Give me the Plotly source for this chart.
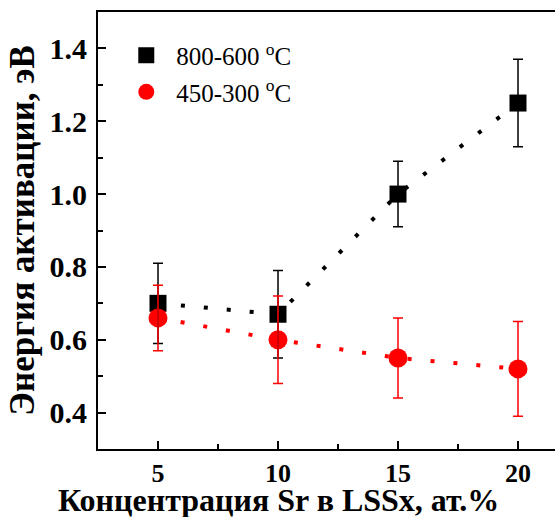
import plotly.graph_objects as go

x_conc = [5, 10, 15, 20]
ea_high = [0.70, 0.67, 1.00, 1.25]
err_high = [0.11, 0.12, 0.09, 0.12]
ea_low = [0.66, 0.60, 0.55, 0.52]
err_low = [0.09, 0.12, 0.11, 0.13]
name_high = "800-600 <sup>o</sup>C"
name_low = "450-300 <sup>o</sup>C"
x_ticks = [5, 10, 15, 20]
x_ticktext = ["5", "10", "15", "20"]
y_ticks = [0.4, 0.6, 0.8, 1.0, 1.2, 1.4]
y_ticktext = ["0.4", "0.6", "0.8", "1.0", "1.2", "1.4"]
x_title = "Концентрация Sr в LSSx, ат.%"
y_title = "Энергия активации, эВ"

FONT = "Liberation Serif"
fig = go.Figure()

# dotted guide lines
fig.add_trace(go.Scatter(x=x_conc, y=ea_high, mode="lines", showlegend=False,
                         line=dict(color="black", width=4, dash="4px,19px")))
fig.add_trace(go.Scatter(x=x_conc, y=ea_low, mode="lines", showlegend=False,
                         line=dict(color="red", width=4, dash="4px,19px")))
# markers
fig.add_trace(go.Scatter(x=x_conc, y=ea_high, mode="markers", name=name_high,
                         legendgroup="a",
                         marker=dict(symbol="square", size=17, color="black")))
fig.add_trace(go.Scatter(x=x_conc, y=ea_low, mode="markers", name=name_low,
                         legendgroup="b",
                         marker=dict(symbol="circle", size=19, color="red")))
# error bars on top
fig.add_trace(go.Scatter(x=x_conc, y=ea_high, mode="markers", showlegend=False,
                         marker=dict(size=1, opacity=0),
                         error_y=dict(type="data", array=err_high, color="black",
                                      thickness=1.5, width=5)))
fig.add_trace(go.Scatter(x=x_conc, y=ea_low, mode="markers", showlegend=False,
                         marker=dict(size=1, opacity=0),
                         error_y=dict(type="data", array=err_low, color="red",
                                      thickness=1.5, width=5)))

fig.add_annotation(text=x_title, xref="paper", yref="paper",
                   x=0.396, y=-0.117, xanchor="center", yanchor="middle",
                   showarrow=False,
                   font=dict(family=FONT, size=32, color="black", weight=700))

fig.update_layout(
    width=555, height=517,
    margin=dict(l=98, r=0, t=12, b=68),
    paper_bgcolor="white", plot_bgcolor="white",
    font=dict(family=FONT, color="black", size=20),
    legend=dict(x=0.04, y=0.953, xanchor="left", yanchor="top",
                font=dict(family=FONT, size=25), bgcolor="rgba(0,0,0,0)",
                itemwidth=50, traceorder="grouped", tracegroupgap=1),
    xaxis=dict(range=[2.5, 2.5 + 457 / 24.0], tickmode="array",
               tickvals=x_ticks, ticktext=x_ticktext,
               ticks="inside", ticklen=8, tickwidth=1.5, tickcolor="black",
               minor=dict(tickvals=[7.5, 12.5, 17.5], ticks="inside", ticklen=5,
                          tickwidth=1.5, tickcolor="black"),
               showline=True, linewidth=2, linecolor="black", mirror=True,
               showgrid=False, zeroline=False,
               tickfont=dict(family=FONT, size=26, color="black", weight=700)),
    yaxis=dict(range=[0.3, 1.5], tickmode="array",
               tickvals=y_ticks, ticktext=y_ticktext,
               ticks="inside", ticklen=8, tickwidth=1.5, tickcolor="black",
               ticklabelstandoff=3,
               minor=dict(tickvals=[0.5, 0.7, 0.9, 1.1, 1.3], ticks="inside", ticklen=5,
                          tickwidth=1.5, tickcolor="black"),
               showline=True, linewidth=2, linecolor="black", mirror=False,
               showgrid=False, zeroline=False,
               tickfont=dict(family=FONT, size=30, color="black", weight=700),
               title=dict(text=y_title,
                          font=dict(family=FONT, size=35, color="black", weight=700),
                          standoff=4)),
)

fig.write_html("out.html")
